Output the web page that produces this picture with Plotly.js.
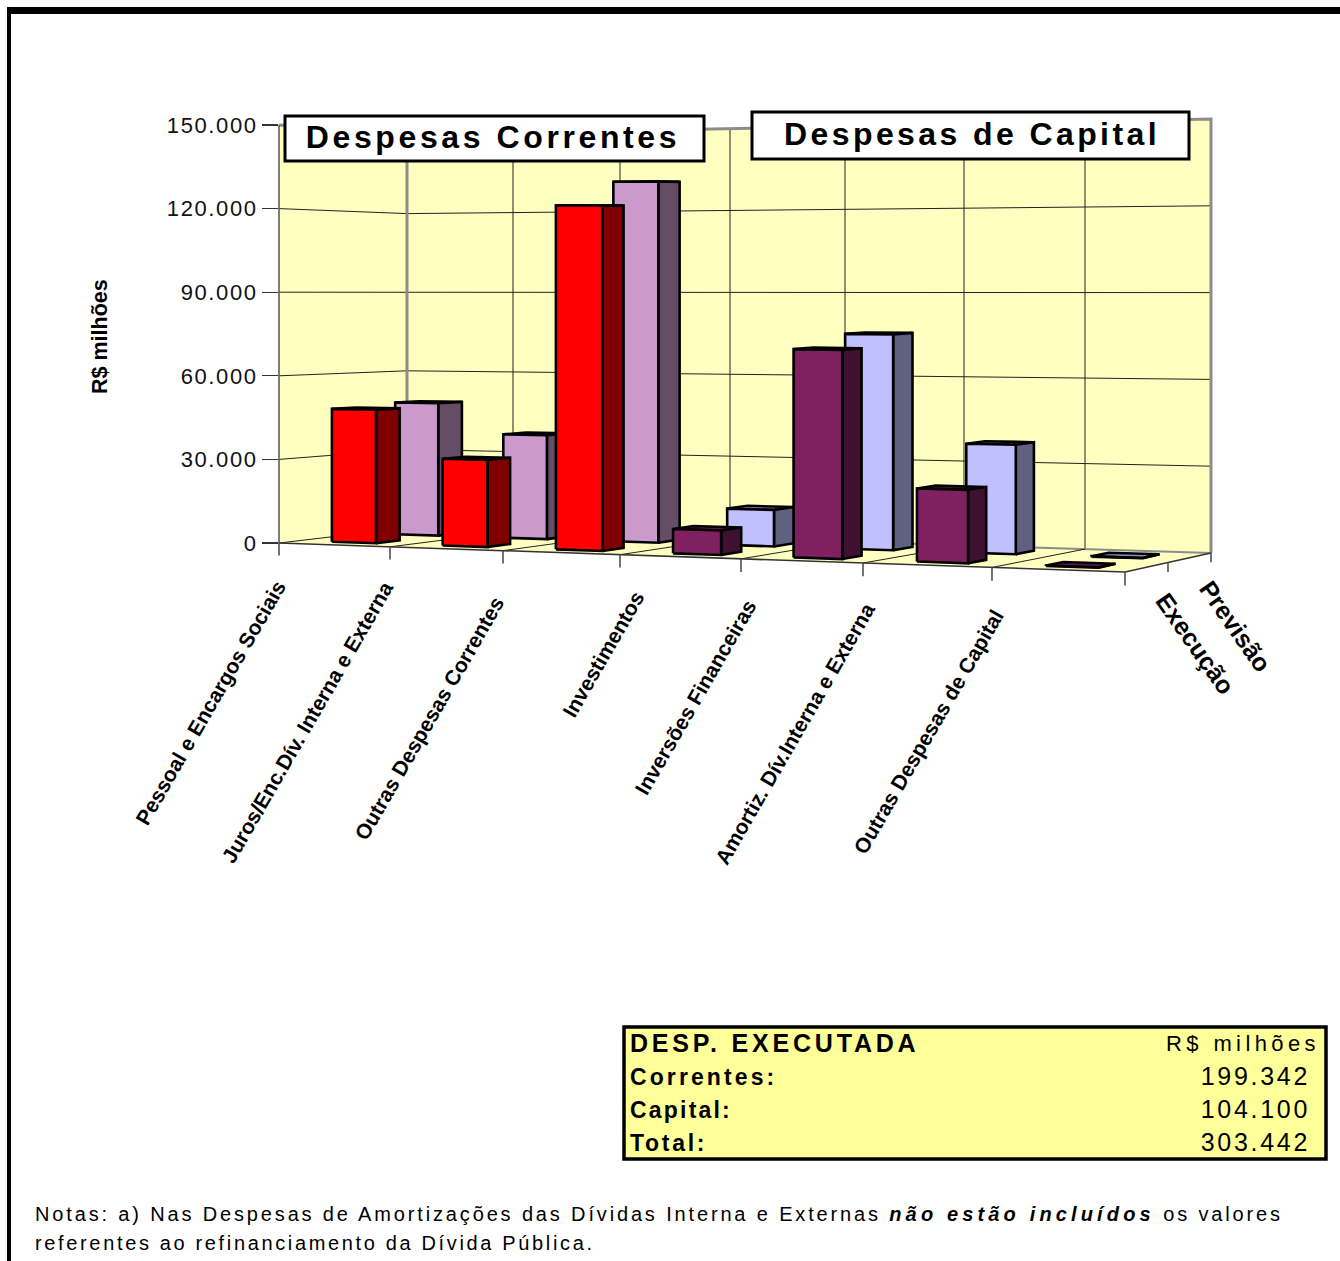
<!DOCTYPE html>
<html><head><meta charset="utf-8">
<script src="https://cdn.plot.ly/plotly-3.0.1.min.js"></script>
<style>html,body{margin:0;padding:0;background:#fff;overflow:hidden}</style>
</head><body><div id="chart" style="width:1340px;height:1261px"></div>
<script>
// ---- data ----
const categories = ["Pessoal e Encargos Sociais","Juros/Enc.Dív. Interna e Externa","Outras Despesas Correntes","Investimentos","Inversões Financeiras","Amortiz. Dív.Interna e Externa","Outras Despesas de Capital"];
const execucao = [48000,31000,121600,8500,72000,25000,150];
const previsao = [49000,38000,130500,13000,76000,38000,150];
const seriesNames = ["Execução","Previsão"];
const valueTicks = [0,30000,60000,90000,120000,150000];
const tableLabels = ["DESP. EXECUTADA","Correntes:","Capital:","Total:"];
const tableValues = ["R$ milhões","199.342","104.100","303.442"];
const groupTitles = ["Despesas Correntes","Despesas de Capital"];

// ---- projection of the 3-D box onto the page ----
const VMAX = 150000;
const frontTicks = [279,390,503,620,741,863,992,1125];
const backTicks  = [407,513,620,730,845,964,1085,1211];
const F = {x0:279,x1:1125,bot0:543,bot1:572,top0:125,top1:122};
const B = {x0:407,x1:1211,bot0:528,bot1:553,top0:135,top1:119};
const lerp=(a,b,t)=>a+(b-a)*t;
function edge(arr,u){const i=Math.min(arr.length-2,Math.max(0,Math.floor(u)));return lerp(arr[i],arr[i+1],u-i);}
function P(u,w,v){
  const fx=edge(frontTicks,u), bx=edge(backTicks,u);
  const sf=(fx-F.x0)/(F.x1-F.x0), sb=(bx-B.x0)/(B.x1-B.x0);
  const y0=lerp(lerp(F.bot0,F.bot1,sf),lerp(B.bot0,B.bot1,sb),w);
  const yT=lerp(lerp(F.top0,F.top1,sf),lerp(B.top0,B.top1,sb),w);
  return [lerp(fx,bx,w), y0+(yT-y0)*v/VMAX];
}
const traces=[];
function poly(pts,fill,lineColor,lw){
  const closed=pts.concat([pts[0]]);
  traces.push({type:'scatter',mode:'lines',x:closed.map(p=>p[0]),y:closed.map(p=>p[1]),fill:'toself',fillcolor:fill,
    line:{color:lineColor,width:lw},hoverinfo:'skip',showlegend:false});
}
function path(pts,color,lw){
  traces.push({type:'scatter',mode:'lines',x:pts.map(p=>p[0]),y:pts.map(p=>p[1]),line:{color:color,width:lw},hoverinfo:'skip',showlegend:false});
}
const WALL='#FFFFC0', GREY='#8c8c8c';
// walls and floor
poly([P(0,0,0),P(0,1,0),P(0,1,VMAX),P(0,0,VMAX)],WALL,WALL,0);
poly([P(0,1,0),P(7,1,0),P(7,1,VMAX),P(0,1,VMAX)],WALL,WALL,0);
poly([P(0,0,0),P(7,0,0),P(7,1,0),P(0,1,0)],WALL,WALL,0);
// gridlines
valueTicks.slice(1,-1).forEach(v=>path([P(0,0,v),P(0,1,v),P(7,1,v)],'#222',1));
for(let u=1;u<7;u++) path([P(u,1,0),P(u,1,VMAX)],'#222',1);
// wall frame
path([P(0,0,VMAX),P(0,1,VMAX),P(7,1,VMAX),P(7,1,0)],GREY,3);
path([P(0,1,0),P(0,1,VMAX)],GREY,3);
path([P(0,1,0),P(7,1,0)],GREY,2);
// floor lines and ticks
for(let u=0;u<7;u++) path([P(u,0,0),P(u,1,0)],'#222',1);
path([P(0,0,VMAX),P(0,0,0)],'#555',1.5);
path([P(0,0,0),P(7,0,0),P(7,1,0)],'#333',1.5);
for(let u=0;u<=7;u++) path([P(u,0,0),P(u,0,-4500)],'#444',1.5);
path([P(7,0.5,0),P(7,0.5,-3200)],'#444',1.5);
path([P(7,1,0),P(7,1,-3200)],'#444',1.5);
// bars: back row first, left to right inside a row
function bar(c,w0,w1,v,cols){
  const u0=c+0.3,u1=c+0.7,K='#000',L=2.6;
  poly([P(u0,w0,v),P(u1,w0,v),P(u1,w1,v),P(u0,w1,v)],cols[2],K,L);
  poly([P(u1,w0,0),P(u1,w1,0),P(u1,w1,v),P(u1,w0,v)],cols[1],K,L);
  poly([P(u0,w0,0),P(u1,w0,0),P(u1,w0,v),P(u0,w0,v)],cols[0],K,L);
}
const PREV_A=['#CC99CC','#664D66','#A67FA6'], PREV_B=['#C0C0FF','#606080','#8f8fc0'];
const EXEC_A=['#FF0000','#800000','#B00000'], EXEC_B=['#802060','#401030','#601848'];
previsao.forEach((v,c)=>bar(c,0.655,0.845,v,c<3?PREV_A:PREV_B));
execucao.forEach((v,c)=>bar(c,0.155,0.345,v,c<3?EXEC_A:EXEC_B));
// value axis carrier
traces.push({type:'scatter',mode:'markers',x:[0,0],y:[0,VMAX],yaxis:'y2',marker:{opacity:0},hoverinfo:'skip',showlegend:false});

// ---- text ----
const FONT='"Liberation Sans",Arial,sans-serif';
const catAnchors=[[293,574],[400,575],[511,590],[651,585],[763,593],[882,596],[1011,603]];
const spacing=[], pins=[];
const ann=[];
function note(text,x,y,size,opts,ls){
  const o=Object.assign({text:text,x:x,y:y,xref:'x',yref:'y',showarrow:false,font:{family:FONT,size:size,color:'#000'},xanchor:'left',yanchor:'middle'},opts||{});
  ann.push(o); spacing.push(ls||0); pins.push([x,o.xanchor]);
}
categories.forEach((c,i)=>note('<b>'+c+'</b>',catAnchors[i][0],catAnchors[i][1],21,{textangle:-60,xanchor:'right',yanchor:'top'},0));
note('<b>'+seriesNames[1]+'</b>',1191,573,25,{textangle:55,xanchor:'left',yanchor:'top'},0);
note('<b>'+seriesNames[0]+'</b>',1148,585,25,{textangle:55,xanchor:'left',yanchor:'top'},0);
note('<b>R$ milhões</b>',100,337,21.5,{textangle:-90,xanchor:'center'},0);
note('<b>'+groupTitles[0]+'</b>',493,137,32,{xanchor:'center'},3.6);
note('<b>'+groupTitles[1]+'</b>',972,134,32,{xanchor:'center'},3.4);
const rowY=[1043,1077,1110,1143];
const labelSpacing=[3.8,3.1,2.2,2.7];
tableLabels.forEach((t,i)=>note('<b>'+t+'</b>',630,rowY[i],i?23:25,{},labelSpacing[i]));
tableValues.forEach((t,i)=>note(t,i?1310:1320,rowY[i]-(i?1:0),i?25:22,{xanchor:'right'},i?2.7:4.4));
note('Notas: a) Nas Despesas de Amortizações das Dívidas Interna e Externas <b><i>não estão incluídos</i></b> os valores',35,1214,20,{},2.85);
note('referentes ao refinanciamento da Dívida Pública.',35,1243,20,{},2.65);

const rect=(x0,y0,x1,y1,fill,lw,col)=>({type:'rect',xref:'x',yref:'y',x0,y0,x1,y1,fillcolor:fill,line:{color:col||'#000',width:lw},layer:'above'});
const shapes=[
  rect(7,7,1340,14,'#000',0),
  rect(7,7,11,1261,'#000',0),
  rect(285,116,704,161,'#fff',3),
  rect(752,112,1189,159,'#fff',3),
  rect(624,1027,1326,1159,'#FFFF99',3.5)
];
const PX=1261;
const layout={
  width:1340,height:1261,margin:{l:0,r:0,t:0,b:0},paper_bgcolor:'#fff',plot_bgcolor:'rgba(0,0,0,0)',showlegend:false,separators:',.',
  font:{family:FONT,color:'#000'},
  xaxis:{range:[0,1340],visible:false,fixedrange:true},
  yaxis:{range:[PX,0],visible:false,fixedrange:true},
  yaxis2:{domain:[(PX-F.bot0)/PX,(PX-F.top0)/PX],range:[0,VMAX],anchor:'free',position:278/1340,side:'left',
    tickvals:valueTicks,tickformat:',d',ticks:'outside',ticklen:16,tickwidth:1.2,tickcolor:'#333',showgrid:false,zeroline:false,
    showline:false,tickfont:{family:FONT,size:22,color:'#111'},fixedrange:true},
  shapes:shapes,annotations:ann
};
Plotly.newPlot('chart',traces,layout,{displayModeBar:false,staticPlot:true}).then(()=>{
  document.querySelectorAll('g.annotation').forEach(g=>{
    const i=+g.getAttribute('data-index'); const t=g.querySelector('text');
    if(!t||!spacing[i]) return;
    t.style.letterSpacing=spacing[i]+'px';
    t.querySelectorAll('tspan').forEach(s=>{ if(s.style.fontStyle==='italic') s.style.letterSpacing='4.15px'; });
    // letter spacing widens the drawn text: put it back on its anchor
    const r=t.getBoundingClientRect(), p=pins[i];
    const cur=p[1]==='left'?r.left:p[1]==='right'?r.right:(r.left+r.right)/2;
    const h=g.querySelector('.annotation-text-g');
    h.setAttribute('transform','translate('+(p[0]-cur)+',0) '+(h.getAttribute('transform')||''));
  });
  document.querySelectorAll('.ytick text, .y2tick text').forEach(t=>t.style.letterSpacing='1.6px');
});
</script></body></html>
